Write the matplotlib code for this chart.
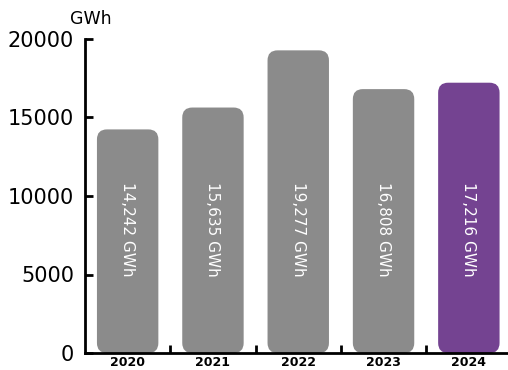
import matplotlib
matplotlib.use("Agg")
import matplotlib.pyplot as plt
from matplotlib.patches import FancyBboxPatch

years = ["2020", "2021", "2022", "2023", "2024"]
generation_gwh = [14242, 15635, 19277, 16808, 17216]
bar_colors = ["#8b8b8b", "#8b8b8b", "#8b8b8b", "#8b8b8b", "#744391"]
y_ticks = [0, 5000, 10000, 15000, 20000]

W, H = 508, 370
fig = plt.figure(figsize=(W / 100, H / 100), dpi=100)
ax = fig.add_axes([85 / W, 17 / H, (508 - 85) / W, 314 / H])

x_right = (508 - 85) / 85.3 - 0.5
ax.set_xlim(-0.5, x_right)
ax.set_ylim(0, 20000)

# pixel sizes in data units, for rounding corners uniformly
px_x = (x_right + 0.5) / (508 - 85)
px_y = 20000 / 314
radius_px = 10
bar_w = 0.72

for i, (val, col) in enumerate(zip(generation_gwh, bar_colors)):
    r = radius_px * px_x
    patch = FancyBboxPatch(
        (i - bar_w / 2, 0), bar_w, val,
        boxstyle=f"round,pad=0,rounding_size={r}",
        mutation_aspect=px_y / px_x,
        facecolor=col, edgecolor="none", zorder=2,
    )
    ax.add_patch(patch)
    ax.text(i, 7900, f"{val:,} GWh", rotation=-90, ha="center", va="center",
            color="white", fontsize=11, zorder=3)

for s in ["top", "right"]:
    ax.spines[s].set_visible(False)
for s in ["left", "bottom"]:
    ax.spines[s].set_linewidth(2)
    ax.spines[s].set_zorder(4)

ax.set_yticks(y_ticks)
ax.set_yticklabels([str(v) for v in y_ticks], fontsize=15)
ax.tick_params(axis="y", direction="in", length=6, width=2, pad=8)

ax.set_xticks(range(len(years)))
ax.set_xticklabels(years, fontsize=9, fontweight="bold")
ax.tick_params(axis="x", which="major", length=0, pad=2)
ax.set_xticks([0.5, 1.5, 2.5, 3.5], minor=True)
ax.tick_params(axis="x", which="minor", direction="in", length=6, width=2)

fig.text(91 / W, 1 - 19 / H, "GWh", ha="center", va="center", fontsize=12.5)

fig.savefig("out.png", dpi=100)
